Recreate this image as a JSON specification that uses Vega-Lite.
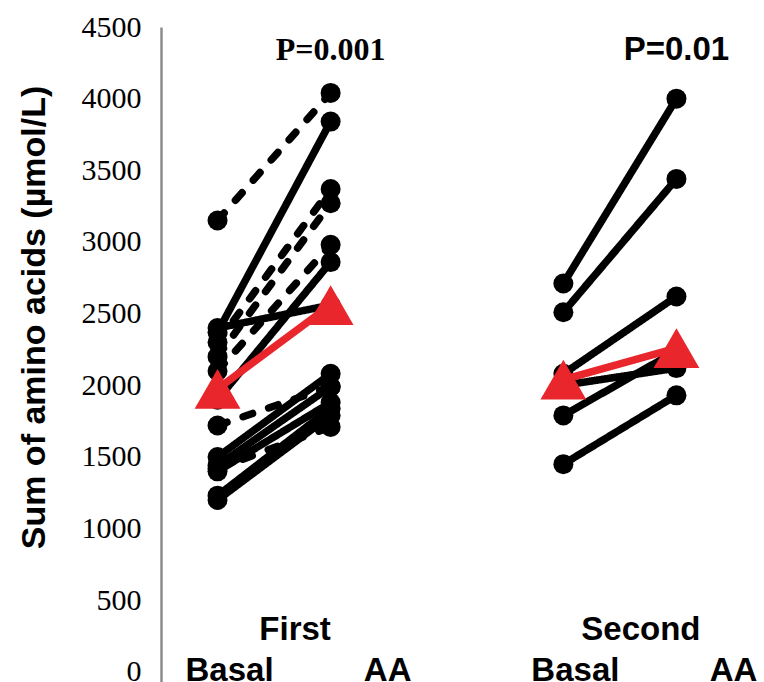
{
  "$schema": "https://vega.github.io/schema/vega-lite/v6.json",
  "autosize": {"type": "none"},
  "padding": {"left": 161, "top": 27, "right": 31, "bottom": 0},
  "width": 572,
  "height": 655,
  "background": "white",
  "config": {"view": {"stroke": null}},
  "datasets": {
    "subjects": [
      {"phase": "First", "subj": "F1", "group": "A", "cond": "Basal", "value": 2370},
      {"phase": "First", "subj": "F1", "group": "A", "cond": "AA", "value": 3840},
      {"phase": "First", "subj": "F2", "group": "A", "cond": "Basal", "value": 2400},
      {"phase": "First", "subj": "F2", "group": "A", "cond": "AA", "value": 2560},
      {"phase": "First", "subj": "F3", "group": "A", "cond": "Basal", "value": 1900},
      {"phase": "First", "subj": "F3", "group": "A", "cond": "AA", "value": 2860},
      {"phase": "First", "subj": "F4", "group": "A", "cond": "Basal", "value": 1500},
      {"phase": "First", "subj": "F4", "group": "A", "cond": "AA", "value": 2080},
      {"phase": "First", "subj": "F5", "group": "A", "cond": "Basal", "value": 1440},
      {"phase": "First", "subj": "F5", "group": "A", "cond": "AA", "value": 1990},
      {"phase": "First", "subj": "F6", "group": "A", "cond": "Basal", "value": 1400},
      {"phase": "First", "subj": "F6", "group": "A", "cond": "AA", "value": 1880},
      {"phase": "First", "subj": "F7", "group": "A", "cond": "Basal", "value": 1230},
      {"phase": "First", "subj": "F7", "group": "A", "cond": "AA", "value": 1840},
      {"phase": "First", "subj": "F8", "group": "A", "cond": "Basal", "value": 1200},
      {"phase": "First", "subj": "F8", "group": "A", "cond": "AA", "value": 1790},
      {"phase": "First", "subj": "F9", "group": "B", "cond": "Basal", "value": 3150},
      {"phase": "First", "subj": "F9", "group": "B", "cond": "AA", "value": 4040},
      {"phase": "First", "subj": "F10", "group": "B", "cond": "Basal", "value": 2300},
      {"phase": "First", "subj": "F10", "group": "B", "cond": "AA", "value": 3370},
      {"phase": "First", "subj": "F11", "group": "B", "cond": "Basal", "value": 2200},
      {"phase": "First", "subj": "F11", "group": "B", "cond": "AA", "value": 3270},
      {"phase": "First", "subj": "F12", "group": "B", "cond": "Basal", "value": 2100},
      {"phase": "First", "subj": "F12", "group": "B", "cond": "AA", "value": 2980},
      {"phase": "First", "subj": "F13", "group": "B", "cond": "Basal", "value": 1720},
      {"phase": "First", "subj": "F13", "group": "B", "cond": "AA", "value": 1990},
      {"phase": "First", "subj": "F14", "group": "B", "cond": "Basal", "value": 1420},
      {"phase": "First", "subj": "F14", "group": "B", "cond": "AA", "value": 1710},
      {"phase": "Second", "subj": "S1", "group": "A", "cond": "Basal", "value": 2710},
      {"phase": "Second", "subj": "S1", "group": "A", "cond": "AA", "value": 4000},
      {"phase": "Second", "subj": "S2", "group": "A", "cond": "Basal", "value": 2510},
      {"phase": "Second", "subj": "S2", "group": "A", "cond": "AA", "value": 3440},
      {"phase": "Second", "subj": "S3", "group": "A", "cond": "Basal", "value": 2080},
      {"phase": "Second", "subj": "S3", "group": "A", "cond": "AA", "value": 2620},
      {"phase": "Second", "subj": "S4", "group": "A", "cond": "Basal", "value": 2000},
      {"phase": "Second", "subj": "S4", "group": "A", "cond": "AA", "value": 2120},
      {"phase": "Second", "subj": "S5", "group": "A", "cond": "Basal", "value": 1790},
      {"phase": "Second", "subj": "S5", "group": "A", "cond": "AA", "value": 2240},
      {"phase": "Second", "subj": "S6", "group": "A", "cond": "Basal", "value": 1450},
      {"phase": "Second", "subj": "S6", "group": "A", "cond": "AA", "value": 1930}
    ],
    "means": [
      {"phase": "First", "cond": "Basal", "value": 1975},
      {"phase": "First", "cond": "AA", "value": 2560},
      {"phase": "Second", "cond": "Basal", "value": 2040},
      {"phase": "Second", "cond": "AA", "value": 2260}
    ],
    "ticks": [
      {"phase": "First", "cond": "Basal"},
      {"phase": "First", "cond": "AA"},
      {"phase": "Second", "cond": "Basal"},
      {"phase": "Second", "cond": "AA"}
    ],
    "phases": [
      {"phase": "First"},
      {"phase": "Second"}
    ],
    "pvals": [
      {"phase": "First", "cond": "AA", "p": "P=0.001"},
      {"phase": "Second", "cond": "AA", "p": "P=0.01"}
    ]
  },
  "encoding": {
    "x": {"field": "phase", "type": "nominal", "scale": {"domain": ["First", "Second"], "paddingInner": 0.346, "paddingOuter": 0}, "axis": null}
  },
  "layer": [
    {
      "data": {"name": "subjects"},
      "mark": {"type": "line", "color": "black", "strokeWidth": 7.5, "strokeCap": "round"},
      "encoding": {
        "xOffset": {"field": "cond", "type": "nominal", "scale": {"type": "band", "domain": ["Basal", "AA"], "paddingInner": 0, "paddingOuter": 0}},
        "y": {"field": "value", "type": "quantitative", "scale": {"domain": [-70, 4500], "nice": false, "zero": false},
          "axis": {"values": [0, 500, 1000, 1500, 2000, 2500, 3000, 3500, 4000, 4500], "format": "d", "grid": false, "ticks": false,
            "domainColor": "#8c8c8c", "domainWidth": 2.5, "labelFont": "Liberation Serif", "labelFontSize": 30, "labelColor": "black",
            "labelPadding": 20, "title": "Sum of amino acids (µmol/L)", "titleFont": "Liberation Sans", "titleFontWeight": "bold",
            "titleFontSize": 34, "titleColor": "black", "titlePadding": 30, "titleY": 290}},
        "detail": {"field": "subj"},
        "strokeDash": {"field": "group", "type": "nominal", "scale": {"domain": ["A", "B"], "range": [[1, 0], [10, 17]]}, "legend": null}
      }
    },
    {
      "data": {"name": "subjects"},
      "mark": {"type": "circle", "color": "black", "opacity": 1, "size": 400},
      "encoding": {
        "xOffset": {"field": "cond", "type": "nominal"},
        "y": {"field": "value", "type": "quantitative"}
      }
    },
    {
      "data": {"name": "means"},
      "mark": {"type": "line", "color": "#e8262c", "strokeWidth": 7.5},
      "encoding": {
        "xOffset": {"field": "cond", "type": "nominal"},
        "y": {"field": "value", "type": "quantitative"},
        "detail": {"field": "phase"}
      }
    },
    {
      "data": {"name": "means"},
      "mark": {"type": "point", "shape": "triangle-up", "filled": true, "color": "#e8262c", "opacity": 1, "size": 2100},
      "encoding": {
        "xOffset": {"field": "cond", "type": "nominal"},
        "y": {"field": "value", "type": "quantitative"}
      }
    },
    {
      "data": {"name": "ticks"},
      "transform": [{"filter": "datum.cond === 'Basal'"}],
      "mark": {"type": "text", "font": "Liberation Sans", "fontWeight": "bold", "fontSize": 33, "color": "black", "baseline": "alphabetic", "align": "center", "dx": 12},
      "encoding": {
        "xOffset": {"field": "cond", "type": "nominal"},
        "y": {"datum": -63},
        "text": {"field": "cond"}
      }
    },
    {
      "data": {"name": "ticks"},
      "transform": [{"filter": "datum.cond === 'AA'"}],
      "mark": {"type": "text", "font": "Liberation Sans", "fontWeight": "bold", "fontSize": 33, "color": "black", "baseline": "alphabetic", "align": "center", "dx": 57},
      "encoding": {
        "xOffset": {"field": "cond", "type": "nominal"},
        "y": {"datum": -63},
        "text": {"field": "cond"}
      }
    },
    {
      "data": {"name": "phases"},
      "mark": {"type": "text", "font": "Liberation Sans", "fontWeight": "bold", "fontSize": 33, "color": "black", "baseline": "alphabetic", "align": "center", "dx": 21},
      "encoding": {
        "y": {"datum": 223},
        "text": {"field": "phase"}
      }
    },
    {
      "data": {"name": "pvals"},
      "transform": [{"filter": "datum.phase === 'First'"}],
      "mark": {"type": "text", "font": "Liberation Serif", "fontWeight": "bold", "fontSize": 32, "color": "black", "baseline": "alphabetic", "align": "center"},
      "encoding": {
        "xOffset": {"field": "cond", "type": "nominal"},
        "y": {"datum": 4270},
        "text": {"field": "p"}
      }
    },
    {
      "data": {"name": "pvals"},
      "transform": [{"filter": "datum.phase === 'Second'"}],
      "mark": {"type": "text", "font": "Liberation Sans", "fontWeight": "bold", "fontSize": 33, "color": "black", "baseline": "alphabetic", "align": "center"},
      "encoding": {
        "xOffset": {"field": "cond", "type": "nominal"},
        "y": {"datum": 4270},
        "text": {"field": "p"}
      }
    }
  ]
}
